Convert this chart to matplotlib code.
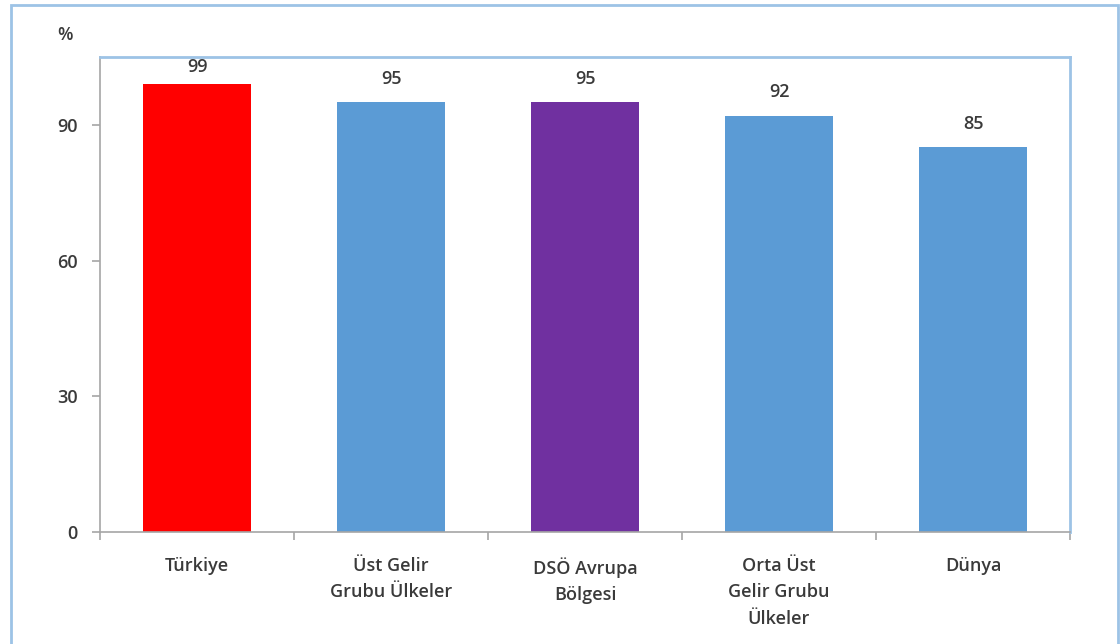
import matplotlib.pyplot as plt
from matplotlib.patches import Rectangle

# veriler
categories = ['Türkiye', 'Üst Gelir\nGrubu Ülkeler', 'DSÖ Avrupa\nBölgesi',
              'Orta Üst\nGelir Grubu\nÜlkeler', 'Dünya']
values = [99, 95, 95, 92, 85]
colors = ['#FF0000', '#5B9BD5', '#7030A0', '#5B9BD5', '#5B9BD5']
yticks = [0, 30, 60, 90]

plt.rcParams['font.family'] = ['Open Sans', 'DejaVu Sans']
plt.rcParams['font.weight'] = 'semibold'
text_color = '#3A3A3A'
axis_color = '#A6A6A6'
frame_color = '#9DC3E6'
fs = 13

fig = plt.figure(figsize=(11.2, 6.44), dpi=100)
ax = fig.add_axes([100 / 1120, 1 - 532 / 644, 970 / 1120, 475 / 644])

x = list(range(len(categories)))
bars = ax.bar(x, values, width=0.56, color=colors)

# değer etiketleri (üst çerçeveye çarpmasın)
for b, v in zip(bars, values):
    ax.text(b.get_x() + b.get_width() / 2, min(v + 3.2, 100.9), str(v),
            ha='center', va='bottom', fontsize=fs, color=text_color)

ax.set_xlim(-0.5, len(categories) - 0.5)
ax.set_ylim(0, 105)
ax.set_yticks(yticks)
ax.set_xticks(x)
ax.set_xticklabels(categories, linespacing=1.6)
ax.set_xticks([i - 0.5 for i in range(len(categories) + 1)], minor=True)

ax.tick_params(axis='x', which='major', length=0, pad=18, labelsize=fs, colors=text_color)
ax.tick_params(axis='x', which='minor', length=6, width=1.2, color=axis_color)
ax.tick_params(axis='y', length=6, width=1.2, color=axis_color, pad=10,
               labelsize=fs, labelcolor=text_color)

for side in ['left', 'bottom']:
    ax.spines[side].set_color(axis_color)
    ax.spines[side].set_linewidth(1.2)
for side in ['top', 'right']:
    ax.spines[side].set_color(frame_color)
    ax.spines[side].set_linewidth(2)

fig.text(65 / 1120, 1 - 35 / 644, '%', ha='center', va='center', fontsize=fs,
         color=text_color)

# dış çerçeve
fig.patches.append(Rectangle((11 / 1120, -0.02), 1107 / 1120, 1.02 - 5 / 644,
                             transform=fig.transFigure, fill=False,
                             edgecolor=frame_color, linewidth=2))

fig.savefig('out.png', dpi=100)
